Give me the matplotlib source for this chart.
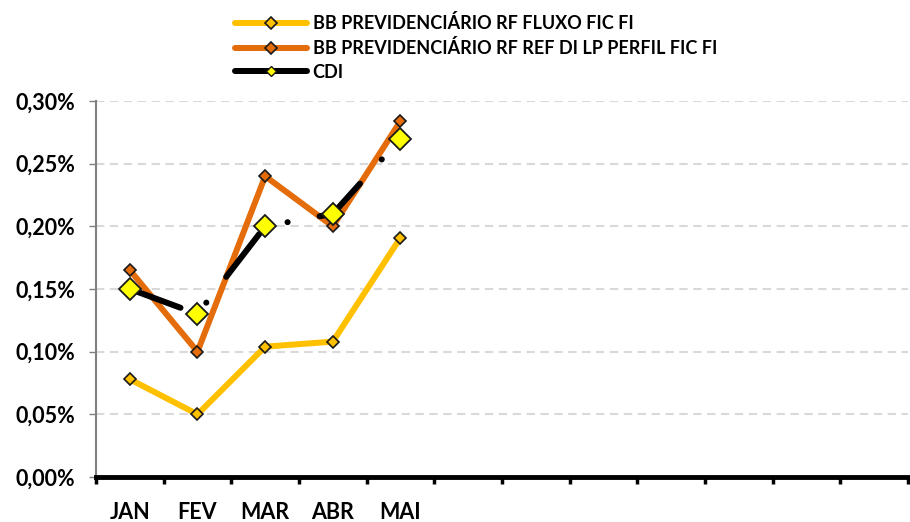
import numpy as np
import matplotlib
matplotlib.use('Agg')
import matplotlib.pyplot as plt
from matplotlib.lines import Line2D

meses = ['JAN', 'FEV', 'MAR', 'ABR', 'MAI', '', '', '', '', '', '', '']
fluxo = [0.078, 0.050, 0.104, 0.108, 0.191]
perfil = [0.165, 0.100, 0.240, 0.200, 0.284]
cdi = [0.150, 0.130, 0.200, 0.210, 0.270]
nomes = ['BB PREVIDENCIÁRIO RF FLUXO FIC FI',
         'BB PREVIDENCIÁRIO RF REF DI LP PERFIL FIC FI',
         'CDI']
y_ticks = [0.00, 0.05, 0.10, 0.15, 0.20, 0.25, 0.30]

cor_fluxo = '#FFC000'
cor_perfil = '#E46C0A'

plt.rcParams['font.family'] = ['Lato', 'DejaVu Sans']
plt.rcParams['font.weight'] = 'bold'
plt.rcParams['lines.scale_dashes'] = False

fig = plt.figure(figsize=(9.1, 5.22), dpi=100)
ax = fig.add_axes([96/910, 45/522, 812/910, 376/522])

x = np.arange(len(fluxo))
lw = 6 * 72 / 100

ax.plot(x, fluxo, color=cor_fluxo, lw=lw, marker='D', ms=6, mfc=cor_fluxo,
        mec='#1a1a1a', mew=1.2, solid_joinstyle='round', zorder=3)
ax.plot(x, perfil, color=cor_perfil, lw=lw, marker='D', ms=6, mfc=cor_perfil,
        mec='#1a1a1a', mew=1.2, solid_joinstyle='round', zorder=4)
ax.plot(x, cdi, color='black', lw=lw, linestyle=(0, (38.9, 23.4, 0.1, 23.4)),
        dash_capstyle='round', zorder=5)
ax.plot(x, cdi, linestyle='none', marker='D', ms=11, mfc='#FFFF00',
        mec='#1a1a1a', mew=1.3, zorder=6)

ax.set_xlim(-0.5, len(meses) - 0.5)
ax.set_ylim(0, 0.30)
ax.set_yticks(y_ticks)
ax.set_yticklabels([('%.2f%%' % v).replace('.', ',') for v in y_ticks], fontsize=15.5)
ax.set_xticks(np.arange(len(meses)))
ax.set_xticklabels(meses, fontsize=15.5)
ax.set_xticks(np.arange(len(meses) + 1) - 0.5, minor=True)
ax.tick_params(axis='x', which='major', length=0, pad=18)
ax.tick_params(axis='x', which='minor', length=5, width=2.5, color='black')
ax.tick_params(axis='y', length=5, width=1, color='#808080', pad=10)

ax.grid(axis='y', color='#D9D9D9', linestyle=(0, (6, 4)), lw=1.5)
ax.set_axisbelow(True)
for s in ['top', 'right']:
    ax.spines[s].set_visible(False)
ax.spines['left'].set_color('#808080')
ax.spines['left'].set_linewidth(1.5)
ax.spines['bottom'].set_color('black')
ax.spines['bottom'].set_linewidth(3.5)
ax.spines['bottom'].set_zorder(7)

handles = [
    Line2D([], [], color=cor_fluxo, lw=lw, marker='D', ms=6, mfc=cor_fluxo,
           mec='#1a1a1a', mew=1.2, solid_capstyle='round'),
    Line2D([], [], color=cor_perfil, lw=lw, marker='D', ms=6, mfc=cor_perfil,
           mec='#1a1a1a', mew=1.2, solid_capstyle='round'),
    Line2D([], [], color='black', lw=lw, marker='D', ms=5, mfc='#FFFF00',
           mec='#1a1a1a', mew=1, solid_capstyle='round'),
]
fig.legend(handles, nomes, loc='upper left', bbox_to_anchor=(226/910, 1 - 5/522),
           frameon=False, fontsize=13, handlelength=4.0, handletextpad=0.3,
           labelspacing=0.38, borderpad=0)

fig.savefig('out.png', dpi=100)
